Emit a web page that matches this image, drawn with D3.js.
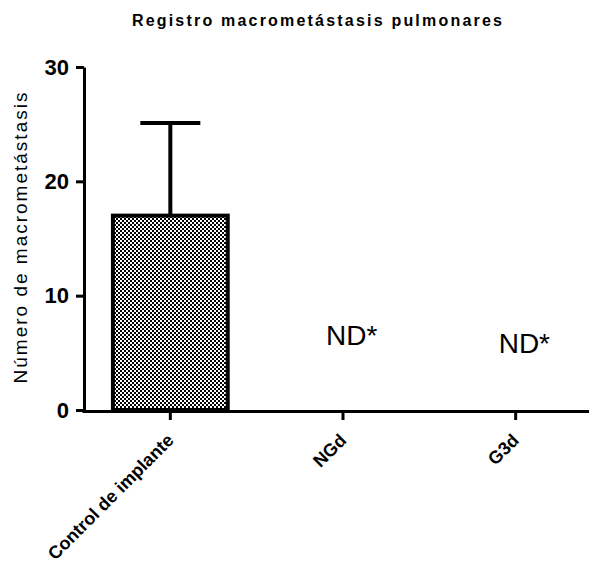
<!DOCTYPE html>
<html>
<head>
<meta charset="utf-8">
<script src="https://cdn.jsdelivr.net/npm/d3@7"></script>
<style>
  body { margin: 0; background: #fff; }
  text { font-family: "Liberation Sans", Arial, sans-serif; }
</style>
</head>
<body>
<div class="canvas"></div>
<script>
const categories = ["Control de implante", "NGd", "G3d"];
const means = [17, null, null];
const errors = [8.1, null, null];
const notes = ["", "ND*", "ND*"];
const noteLevels = [null, 5.7, 5.0];
const yTicks = [0, 10, 20, 30];

const dims = { width: 589, height: 565 };
const plot = { left: 84, top: 67, bottom: 410, right: 602 };

const svg = d3
  .select(".canvas")
  .append("svg")
  .attr("width", dims.width)
  .attr("height", dims.height);

// checkerboard fill
const pattern = svg
  .append("defs")
  .append("pattern")
  .attr("id", "checker")
  .attr("patternUnits", "userSpaceOnUse")
  .attr("width", 4)
  .attr("height", 4);
pattern.append("rect").attr("width", 4).attr("height", 4).attr("fill", "#000");
pattern.append("rect").attr("width", 2).attr("height", 2).attr("fill", "#fff");
pattern.append("rect").attr("x", 2).attr("y", 2).attr("width", 2).attr("height", 2).attr("fill", "#fff");

const x = d3
  .scaleBand()
  .domain(categories)
  .range([plot.left, plot.right])
  .padding(0);

const y = d3.scaleLinear().domain([0, 30]).range([plot.bottom, plot.top]);

const barW = x.bandwidth() * 0.665;
const capW = 60;

// title
svg
  .append("text")
  .attr("x", 318)
  .attr("y", 26)
  .attr("text-anchor", "middle")
  .attr("font-size", 16)
  .attr("font-weight", "bold")
  .attr("letter-spacing", 2.2)
  .text("Registro macrometástasis pulmonares");

// y label
svg
  .append("text")
  .attr("transform", `translate(27, 237) rotate(-90)`)
  .attr("text-anchor", "middle")
  .attr("font-size", 19)
  .attr("letter-spacing", 2)
  .text("Número de macrometástasis");

// error bars (behind bars)
const data = categories.map((c, i) => ({ cat: c, mean: means[i], err: errors[i] }));
const withValue = data.filter((d) => d.mean !== null);

svg
  .selectAll("line.err")
  .data(withValue)
  .enter()
  .append("line")
  .attr("class", "err")
  .attr("x1", (d) => x(d.cat) + x.bandwidth() / 2)
  .attr("x2", (d) => x(d.cat) + x.bandwidth() / 2)
  .attr("y1", (d) => y(d.mean))
  .attr("y2", (d) => y(d.mean + d.err))
  .attr("stroke", "#000")
  .attr("stroke-width", 4);

svg
  .selectAll("line.cap")
  .data(withValue)
  .enter()
  .append("line")
  .attr("class", "cap")
  .attr("x1", (d) => x(d.cat) + x.bandwidth() / 2 - capW / 2)
  .attr("x2", (d) => x(d.cat) + x.bandwidth() / 2 + capW / 2)
  .attr("y1", (d) => y(d.mean + d.err))
  .attr("y2", (d) => y(d.mean + d.err))
  .attr("stroke", "#000")
  .attr("stroke-width", 4);

// bars
svg
  .selectAll("rect.bar")
  .data(withValue)
  .enter()
  .append("rect")
  .attr("class", "bar")
  .attr("x", (d) => x(d.cat) + x.bandwidth() / 2 - barW / 2)
  .attr("y", (d) => y(d.mean))
  .attr("width", barW)
  .attr("height", (d) => y(0) - y(d.mean))
  .attr("fill", "url(#checker)")
  .attr("stroke", "#000")
  .attr("stroke-width", 4);

// ND annotations
svg
  .selectAll("text.note")
  .data(categories.map((c, i) => ({ cat: c, note: notes[i], level: noteLevels[i] })).filter((d) => d.note))
  .enter()
  .append("text")
  .attr("class", "note")
  .attr("x", (d) => x(d.cat) + x.bandwidth() / 2 - 17)
  .attr("y", (d) => y(d.level))
  .attr("font-size", 28)
  .text((d) => d.note);

// axes
const yAxis = d3.axisLeft(y).tickValues(yTicks).tickSize(8).tickSizeOuter(0).tickPadding(7);
const yG = svg.append("g").attr("transform", `translate(${plot.left}, 0)`).call(yAxis);
yG.selectAll("path, line").attr("stroke", "#000").attr("stroke-width", 3);
yG.selectAll("text")
  .attr("font-size", 22)
  .attr("font-weight", "bold")
  .attr("fill", "#000")
  .attr("font-family", "Liberation Sans, Arial, sans-serif");

const xAxis = d3.axisBottom(x).tickSize(9).tickSizeOuter(0);
const xG = svg.append("g").attr("transform", `translate(0, ${plot.bottom + 1})`).call(xAxis);
xG.select("path.domain").attr("d", `M${plot.left - 1.5},0.5H${plot.right}`);
xG.selectAll("path, line").attr("stroke", "#000").attr("stroke-width", 3);
xG.selectAll("text")
  .attr("font-size", 18)
  .attr("font-weight", "bold")
  .attr("fill", "#000")
  .attr("font-family", "Liberation Sans, Arial, sans-serif")
  .attr("text-anchor", "end")
  .attr("x", 0)
  .attr("y", 0)
  .attr("dy", "0.35em")
  .attr("transform", "translate(0, 26) rotate(-45)");
</script>
</body>
</html>
